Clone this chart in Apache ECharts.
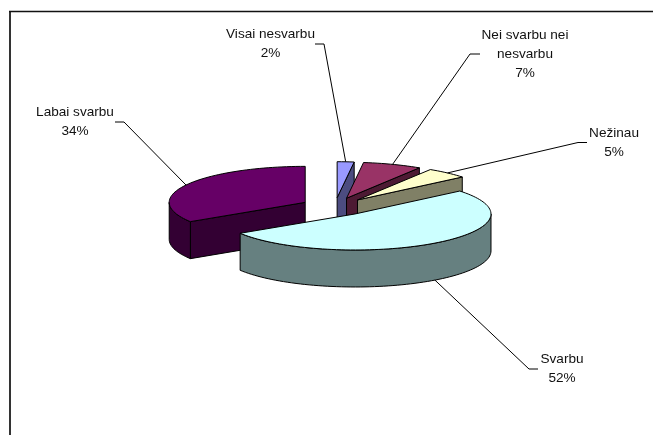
<!DOCTYPE html>
<html>
<head>
<meta charset="utf-8">
<style>html,body{margin:0;padding:0;background:#fff}#c{width:653px;height:435px}</style>
<script src="https://cdn.jsdelivr.net/npm/echarts@6/dist/echarts.min.js"></script>
</head>
<body>
<div id="c"></div>
<script>
const categories = ['Visai nesvarbu', 'Nei svarbu nei\nnesvarbu', 'Nežinau', 'Svarbu', 'Labai svarbu'];
const values = [2, 7, 5, 52, 34];
const topColors = ['#9999FF', '#993366', '#FFFFCC', '#CCFFFF', '#660066'];
const sideColors = ['#4C4C80', '#4D1A33', '#808066', '#668080', '#330033'];
// label centre and leader elbow for each slice (layout only)
const labelPos = [[270.5, 44], [525, 54], [614, 142.5], [562, 368.5], [75, 121.5]];
const elbows = [[[315, 44], [324, 44]], [[480, 54], [470, 54]], [[587, 142.5], [578, 142.5]], [[538, 369], [529, 369]], [[115, 122], [124, 122]]];

const view = { cx: 335, cy: 206.7, rx: 136, ry: 36, depth: 37, explode: 0.25 };
const total = values.reduce((a, b) => a + b, 0);
const rad = d => d * Math.PI / 180;

let acc = 0;
const slices = values.map((v, i) => {
  const a0 = acc / total * 360;
  acc += v;
  const a1 = acc / total * 360;
  const mid = rad((a0 + a1) / 2);
  return {
    i, a0, a1, midDeg: (a0 + a1) / 2,
    cx: view.cx + view.explode * view.rx * Math.sin(mid),
    cy: view.cy - view.explode * view.ry * Math.cos(mid)
  };
});
const drawOrder = slices.slice().sort((p, q) => p.cy - q.cy);

function pt(s, deg, dz) {
  return [s.cx + view.rx * Math.sin(rad(deg)), s.cy - view.ry * Math.cos(rad(deg)) + (dz || 0)];
}
function arc(s, from, to, dz) {
  const n = Math.max(2, Math.ceil(Math.abs(to - from) / 2));
  const out = [];
  for (let k = 0; k <= n; k++) out.push(pt(s, from + (to - from) * k / n, dz));
  return out;
}
function poly(points, fill, z2) {
  return { type: 'polygon', z2, shape: { points }, style: { fill, stroke: '#000', lineWidth: 1, lineJoin: 'round' } };
}

function renderSlice(params, api) {
  const s = drawOrder[params.dataIndex];
  const side = sideColors[s.i], d = view.depth, base = params.dataIndex * 10;
  const apex = [s.cx, s.cy], apexD = [s.cx, s.cy + d];
  const children = [];
  // visible cut walls
  if (Math.sin(rad(s.a0)) < -1e-6) {
    const p = pt(s, s.a0), q = pt(s, s.a0, d);
    children.push(poly([apex, p, q, apexD], side, base + 1));
  }
  if (Math.sin(rad(s.a1)) > 1e-6) {
    const p = pt(s, s.a1), q = pt(s, s.a1, d);
    children.push(poly([apex, p, q, apexD], side, base + 1));
  }
  // visible outer wall (front half of the rim)
  const f0 = Math.max(s.a0, 90), f1 = Math.min(s.a1, 270);
  if (f1 > f0) {
    const upper = arc(s, f0, f1, 0), lower = arc(s, f1, f0, d);
    children.push(poly(upper.concat(lower), side, base + 2));
  }
  // top face
  children.push(poly([apex].concat(arc(s, s.a0, s.a1, 0)), topColors[s.i], base + 3));
  // leader line
  const m = s.midDeg;
  const onFront = m > 90 && m < 270;
  const anchor = pt(s, m, onFront ? d : 0);
  children.push({
    type: 'polyline', z2: 200,
    shape: { points: [elbows[s.i][0], elbows[s.i][1], anchor] },
    style: { fill: null, stroke: '#000', lineWidth: 1 }
  });
  // label
  children.push({
    type: 'text', z2: 201,
    x: labelPos[s.i][0], y: labelPos[s.i][1],
    style: {
      text: categories[s.i] + '\n' + Math.round(values[s.i] / total * 100) + '%',
      font: '13.6px "Liberation Sans", Arial, sans-serif',
      fill: '#111', align: 'center', verticalAlign: 'middle', lineHeight: 19
    }
  });
  return { type: 'group', children };
}

const chart = echarts.init(document.getElementById('c'), null, { renderer: 'canvas' });
chart.setOption({
  animation: false,
  backgroundColor: '#fff',
  tooltip: { show: false },
  graphic: [
    { type: 'line', shape: { x1: 10, y1: 11, x2: 10, y2: 435 }, style: { stroke: '#333', lineWidth: 2 } },
    { type: 'line', shape: { x1: 9, y1: 11.5, x2: 653, y2: 11.5 }, style: { stroke: '#111', lineWidth: 1.5 } }
  ],
  series: [{
    type: 'custom',
    coordinateSystem: 'none',
    silent: true,
    renderItem: renderSlice,
    data: drawOrder.map(s => ({ name: categories[s.i].replace('\n', ' '), value: [values[s.i]] }))
  }]
});
</script>
</body>
</html>
